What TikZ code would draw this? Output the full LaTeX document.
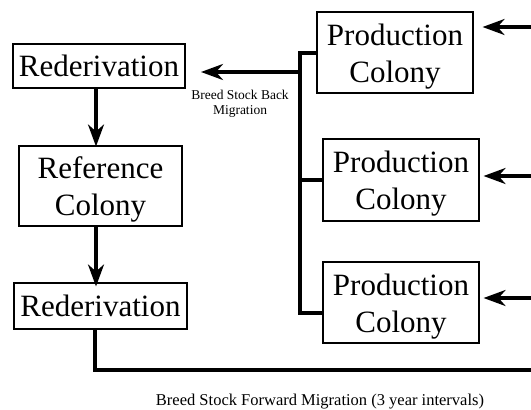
\documentclass[tikz,border=0pt]{standalone}
\usepackage{fontspec}
\setmainfont{Liberation Serif}
\usetikzlibrary{arrows.meta}
% taller first line pushes two-line labels a little lower in their boxes
\newcommand{\toplift}{\rule{0pt}{29pt}}
\begin{document}
\begin{tikzpicture}[x=1pt,y=-1pt,
  box/.style={draw,line width=1.1pt,align=center,inner sep=0pt,
    font=\fontsize{31}{37}\selectfont},
  link/.style={line width=3.3pt},
  arr/.style={link,-{Stealth[length=22pt,width=16pt,inset=7pt]}},
  note/.style={align=center,inner sep=0pt}]
\useasboundingbox (0,0) rectangle (531,410);

% left column
\node[box,minimum width=172pt,minimum height=44pt] (red1) at (99,66) {Rederivation};
\node[box,minimum width=163pt,minimum height=80pt] (ref) at (100.5,186) {\toplift Reference\\Colony};
\node[box,minimum width=173pt,minimum height=46pt] (red2) at (100.5,306) {Rederivation};

% production colonies
\node[box,minimum width=156pt,minimum height=81pt] (pc1) at (395,52.5) {\toplift Production\\Colony};
\node[box,minimum width=156pt,minimum height=82pt] (pc2) at (401,180) {\toplift Production\\Colony};
\node[box,minimum width=156pt,minimum height=81pt] (pc3) at (401,302.5) {\toplift Production\\Colony};

% vertical flow on the left
\draw[arr] ([xshift=-3pt]red1.south) -- ([xshift=-4.5pt,yshift=-1pt]ref.north);
\draw[arr] ([xshift=-4.5pt]ref.south) -- ([xshift=-4.5pt,yshift=-4pt]red2.north);

% back-migration branch
\coordinate (bt) at (300,53);
\coordinate (bb) at (300,313);
\coordinate (bj) at (300,72);
\coordinate (btip) at (201,72);
\draw[link,line cap=butt] (pc1.west |- bt) -- (bt) -- (bb) -- (bb -| pc3.west);
\draw[link] (pc2.west) -- (pc2.west -| bt);
\draw[arr] ([xshift=-1.6pt]bj) -- (btip);
\node[note,font=\fontsize{13.5}{15}\selectfont] (backlbl) at (240,104) {Breed Stock Back\\Migration};

% incoming forward migrations
\coordinate (in1) at (531,27);
\coordinate (in2) at (531,176);
\coordinate (in3) at (531,298);
\draw[arr] (in1) -- ([xshift=9pt]pc1.east |- in1);
\draw[arr] (in2) -- ([xshift=4pt]pc2.east |- in2);
\draw[arr] (in3) -- ([xshift=4pt]pc3.east |- in3);

% forward migration line
\coordinate (fc) at (95,370);
\coordinate (fend) at (531,370);
\draw[link] (red2.south -| fc) -- (fc) -- (fend);
\node[note,font=\fontsize{16.5}{18}\selectfont] (fwdlbl) at (320,401.5) {Breed Stock Forward Migration (3 year intervals)};
\end{tikzpicture}
\end{document}
